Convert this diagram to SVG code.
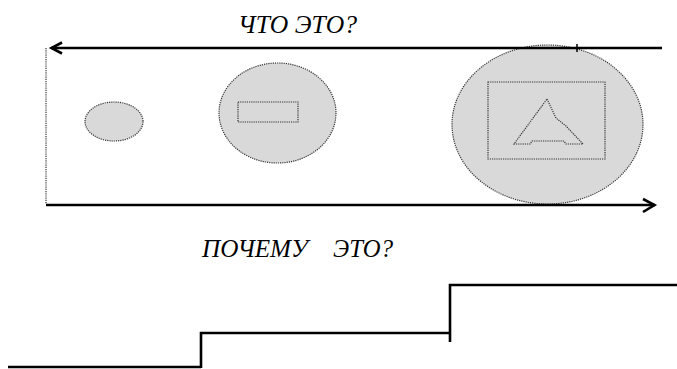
<svg xmlns="http://www.w3.org/2000/svg" width="677" height="369" viewBox="0 0 677 369">
<style>
.lbl{font-family:"Liberation Serif","Times New Roman",serif;font-style:italic;font-size:25px;fill:#000}
.shape{fill:#d9d9d9;stroke:#333;stroke-width:1.2;stroke-dasharray:1.2 1}
.inner{fill:none;stroke:#333;stroke-width:1.2;stroke-dasharray:1.2 1}
.bold{fill:none;stroke:#000;stroke-width:2.6}
.dot{fill:none;stroke:#333;stroke-width:1.2;stroke-dasharray:1.2 1}
</style>
<rect width="677" height="369" fill="#fff"/>
<g id="frame">
<line class="dot" x1="46" y1="48" x2="46" y2="204"/>
</g>
<g id="node-small">
<ellipse class="shape" cx="114" cy="121.5" rx="29" ry="19.5"/>
</g>
<g id="node-medium">
<ellipse class="shape" cx="277.5" cy="113" rx="58.5" ry="50"/>
<rect class="inner" x="238" y="102" width="60" height="20"/>
</g>
<g id="node-large">
<ellipse class="shape" cx="547.5" cy="124.5" rx="95.5" ry="79.5"/>
<rect class="inner" x="488" y="82" width="117" height="77"/>
<path class="inner" d="M547 99 L556 118 L566 126 L583 144 L566 144 L564 141 L532 141 L530 144 L514 144 Z"/>
</g>
<g id="connectors">
<line class="bold" x1="51" y1="48" x2="662" y2="48"/>
<polyline class="bold" points="62,42.5 51.5,48 62,53.5"/>
<line x1="577" y1="44" x2="577" y2="52" stroke="#000" stroke-width="1.5"/>
<line class="bold" x1="46" y1="205" x2="655" y2="205"/>
<polyline class="bold" points="643,199 654.5,205 643,212"/>
<polyline class="bold" points="8,367 201,367"/>
<polyline class="bold" points="201,368 201,333 450,333"/>
<polyline class="bold" points="450,342 450,285 677,285"/>
</g>
<g id="labels">
<text class="lbl" x="238" y="33" textLength="119" lengthAdjust="spacingAndGlyphs">ЧТО ЭТО?</text>
<text class="lbl" y="257"><tspan x="202" textLength="106" lengthAdjust="spacingAndGlyphs">ПОЧЕМУ</tspan><tspan x="333" textLength="60" lengthAdjust="spacingAndGlyphs">ЭТО?</tspan></text>
</g>
</svg>
